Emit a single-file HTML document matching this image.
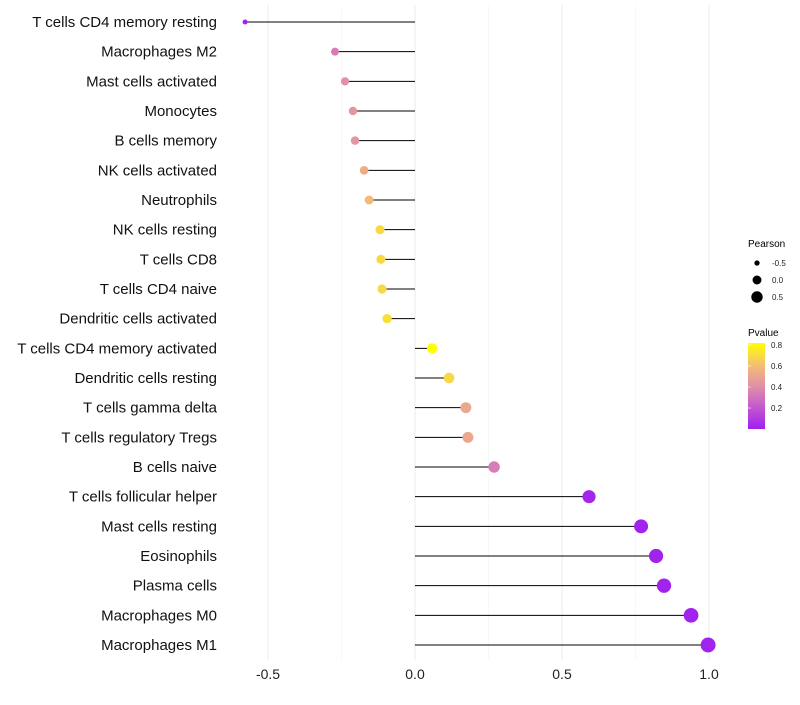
<!DOCTYPE html>
<html><head><meta charset="utf-8"><style>
body{margin:0;background:#fff;font-family:"Liberation Sans",sans-serif}
</style></head><body>
<svg id="chart" width="800" height="700" xmlns="http://www.w3.org/2000/svg" font-family="Liberation Sans, sans-serif">
<g id="grid"></g>
<g id="marks"></g>
<g id="ylabels"></g>
<g id="xlabels"></g>
<g>
<text x="748" y="247" font-size="10" fill="#000">Pearson</text>
<g id="sizeleg"></g>
</g>
<defs><linearGradient id="pg" x1="0" y1="1" x2="0" y2="0">
<stop offset="0" stop-color="#a020f0"/><stop offset="0.25" stop-color="#c457d0"/><stop offset="0.5" stop-color="#e090a8"/><stop offset="0.75" stop-color="#f5c070"/><stop offset="1" stop-color="#ffff00"/>
</linearGradient></defs>
<g>
<text x="748" y="336" font-size="10" fill="#000">Pvalue</text>
<rect x="748" y="343" width="17" height="86" fill="url(#pg)"/>
<g id="cbticks"></g>
</g>
</svg>
<script>
const categories=["T cells CD4 memory resting","Macrophages M2","Mast cells activated","Monocytes","B cells memory","NK cells activated","Neutrophils","NK cells resting","T cells CD8","T cells CD4 naive","Dendritic cells activated","T cells CD4 memory activated","Dendritic cells resting","T cells gamma delta","T cells regulatory  Tregs ","B cells naive","T cells follicular helper","Mast cells resting","Eosinophils","Plasma cells","Macrophages M0","Macrophages M1"];
const pearson=[-0.578,-0.272,-0.238,-0.211,-0.204,-0.173,-0.156,-0.119,-0.116,-0.112,-0.095,0.058,0.116,0.173,0.180,0.269,0.592,0.769,0.820,0.847,0.939,0.997];
const pvalue=[0.01,0.33,0.4,0.43,0.43,0.52,0.57,0.68,0.68,0.68,0.7,0.82,0.68,0.5,0.5,0.33,0.02,0.01,0.01,0.01,0.01,0.01];
const xTicks=[-0.5,0,0.5,1.0];
const xTickLabels=["-0.5","0.0","0.5","1.0"];
const sizeLegendVals=[-0.5,0,0.5];
const cbTicks=[0.2,0.4,0.6,0.8];
const NS="http://www.w3.org/2000/svg";
function xs(v){return 415+v*294;}
function ys(i){return 22+i*(623/21);}
function rs(v){return Math.max(1.5,Math.sqrt(Math.max(0,24.5+31.5*v)));}
function cb(p){return 428-(p-0.01)*(83/0.79);}
function col(p){
 const stops=[[0,[160,32,240]],[0.2,[196,87,208]],[0.4,[224,144,168]],[0.6,[245,192,112]],[0.8,[255,255,0]]];
 p=Math.max(0,Math.min(0.8,p));
 for(let k=0;k<stops.length-1;k++){const a=stops[k],b=stops[k+1];if(p<=b[0]){const t=(p-a[0])/(b[0]-a[0]);return "rgb("+a[1].map((c,j)=>Math.round(c+(b[1][j]-c)*t)).join(",")+")";}}
 return "rgb(255,255,0)";
}
function mk(tag,attrs,parent){const e=document.createElementNS(NS,tag);for(const k in attrs)e.setAttribute(k,attrs[k]);parent.appendChild(e);return e;}
const grid=document.getElementById('grid'),marks=document.getElementById('marks'),yl=document.getElementById('ylabels'),xl=document.getElementById('xlabels');
[-0.25,0.25,0.75].forEach(v=>{const g=mk('line',{x1:xs(v),x2:xs(v),y1:5,y2:660,stroke:'#f3f3f3','stroke-width':0.6},grid);

});
xTicks.forEach((v,i)=>{const g=mk('line',{x1:xs(v),x2:xs(v),y1:5,y2:660,stroke:'#ebebeb','stroke-width':1},grid);


const t=mk('text',{x:xs(v),y:679,'text-anchor':'middle','font-size':14,fill:'#222'},xl);t.textContent=xTickLabels[i];

});
categories.forEach((c,i)=>{const y=ys(i);
const l=mk('line',{x1:xs(0),x2:xs(pearson[i]),y1:y,y2:y,stroke:'#000','stroke-width':1},marks);


const d=mk('circle',{cx:xs(pearson[i]),cy:y,r:rs(pearson[i]),fill:col(pvalue[i])},marks);


const t=mk('text',{x:217,y:y+5,'text-anchor':'end','font-size':15,fill:'#111'},yl);t.textContent=c;

});
const sl=document.getElementById('sizeleg');
sizeLegendVals.forEach((v,i)=>{const y=263+i*17;
const c=mk('circle',{cx:757,cy:y,r:rs(v)*0.9,fill:'#000'},sl);


const t=mk('text',{x:772,y:y+3,'font-size':8,fill:'#222'},sl);t.textContent=v===0?"0.0":String(v);

});
const ct=document.getElementById('cbticks');
cbTicks.forEach(p=>{const y=cb(p);
const t=mk('text',{x:771,y:y+3,'font-size':8,fill:'#222'},ct);t.textContent=p.toFixed(1);


const l=mk('line',{x1:748,x2:751,y1:y,y2:y,stroke:'#fff','stroke-width':0.6},ct);

});
</script>
</body></html>
